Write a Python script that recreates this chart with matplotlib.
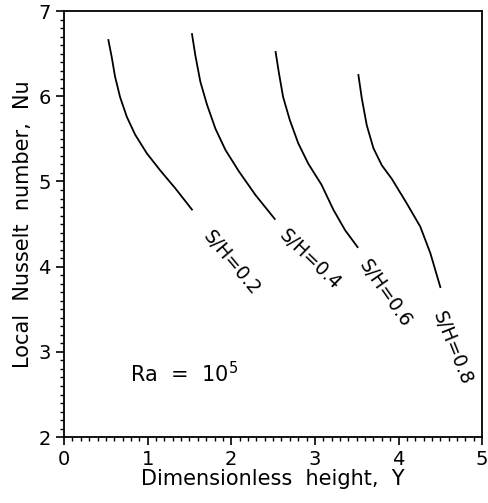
import matplotlib
matplotlib.use("Agg")
import matplotlib.pyplot as plt
from matplotlib.ticker import MultipleLocator

# curves, one per spacing S/H
y_02 = [0.53, 0.57, 0.61, 0.67, 0.75, 0.85, 0.99, 1.15, 1.33, 1.53]
nu_02 = [6.66, 6.46, 6.23, 5.99, 5.76, 5.55, 5.33, 5.13, 4.92, 4.67]

y_04 = [1.53, 1.57, 1.63, 1.71, 1.81, 1.93, 2.09, 2.29, 2.52]
nu_04 = [6.73, 6.48, 6.17, 5.90, 5.62, 5.37, 5.12, 4.84, 4.56]

y_06 = [2.53, 2.57, 2.62, 2.70, 2.80, 2.92, 3.08, 3.22, 3.36, 3.51]
nu_06 = [6.52, 6.27, 5.99, 5.72, 5.45, 5.21, 4.96, 4.67, 4.43, 4.23]

y_08 = [3.52, 3.56, 3.62, 3.70, 3.80, 3.92, 4.10, 4.26, 4.38, 4.50]
nu_08 = [6.25, 5.98, 5.66, 5.39, 5.19, 5.03, 4.74, 4.47, 4.16, 3.76]

labels = ["S/H=0.2", "S/H=0.4", "S/H=0.6", "S/H=0.8"]
label_pos = [(2.00, 4.04), (2.94, 4.08), (3.84, 3.69), (4.64, 3.04)]
label_rot = [-50, -44, -55, -68]

fig = plt.figure(figsize=(4.89, 5.03), dpi=100)
ax = fig.add_axes([0.131, 0.131, 0.855, 0.847])

for xs, ys in [(y_02, nu_02), (y_04, nu_04), (y_06, nu_06), (y_08, nu_08)]:
    ax.plot(xs, ys, color="black", linewidth=1.3)

for text, (lx, ly), rot in zip(labels, label_pos, label_rot):
    ax.text(lx, ly, text, rotation=rot, ha="center", va="center", fontsize=13.5,
            rotation_mode="anchor")

ax.text(1.43, 2.75, r"Ra  =  10$^5$", ha="center", va="center", fontsize=15)

ax.set_xlim(0, 5)
ax.set_ylim(2, 7)
ax.xaxis.set_major_locator(MultipleLocator(1))
ax.xaxis.set_minor_locator(MultipleLocator(0.1))
ax.yaxis.set_major_locator(MultipleLocator(1))
ax.yaxis.set_minor_locator(MultipleLocator(0.1))
ax.tick_params(which="major", direction="out", length=6, width=1.2, labelsize=14)
ax.tick_params(which="minor", direction="out", length=3, width=1)
ax.set_xlabel("Dimensionless  height,  Y", fontsize=15, labelpad=0)
ax.set_ylabel("Local  Nusselt  number,  Nu", fontsize=15, labelpad=4)
for s in ax.spines.values():
    s.set_linewidth(1.3)

fig.savefig("out.png", dpi=100)
